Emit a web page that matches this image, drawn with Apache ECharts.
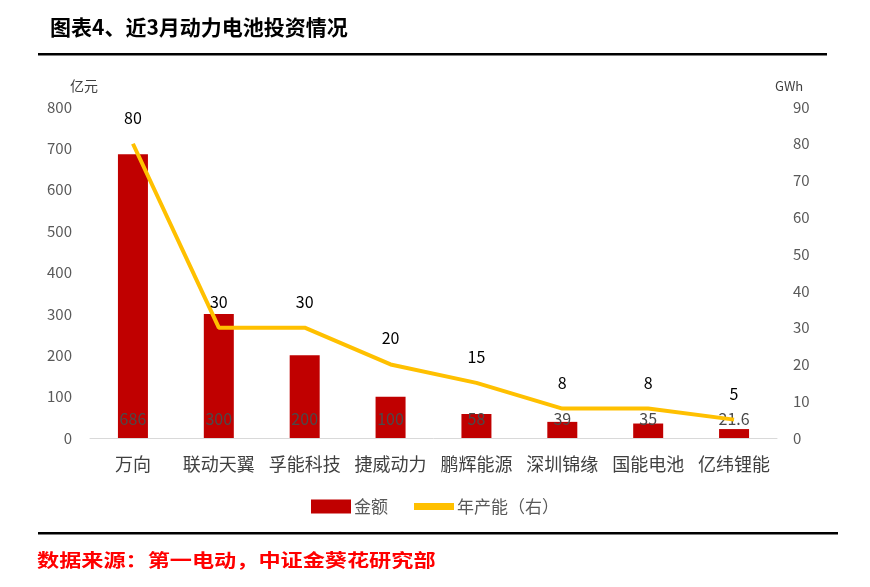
<!DOCTYPE html>
<html><head><meta charset="utf-8">
<script src="https://cdn.jsdelivr.net/npm/echarts@6/dist/echarts.min.js"></script>
<style>html,body{margin:0;padding:0;background:#fff}#c{width:870px;height:587px}</style>
</head><body><div id="c"></div>
<script>
const categories = ['万向','联动天翼','孚能科技','捷威动力','鹏辉能源','深圳锦缘','国能电池','亿纬锂能'];
const amount = [686, 300, 200, 100, 58, 39, 35, 21.6];
const capacity = [80, 30, 30, 20, 15, 8, 8, 5];
const leftTicks = {min: 0, max: 800, interval: 100};
const rightTicks = {min: 0, max: 90, interval: 10};
const FONT = '"Noto Sans CJK SC", "Noto Sans", sans-serif';

const chart = echarts.init(document.getElementById('c'));
chart.setOption({
  animation: false,
  textStyle: {fontFamily: FONT},
  grid: {left: 90, right: 93, top: 107, bottom: 149},
  legend: {
    data: [{name: '金额', icon: 'rect'}, {name: '年产能（右）', icon: 'path://M0,0 L40,0 L40,7 L0,7 Z'}],
    bottom: 67, left: 'center',
    itemWidth: 40, itemHeight: 14, itemGap: 26,
    textStyle: {fontSize: 17, color: '#595959', fontFamily: FONT, padding: [0, 0, 0, -2]}
  },
  xAxis: {
    type: 'category', data: categories,
    axisLine: {lineStyle: {color: '#d9d9d9', width: 1}},
    axisTick: {show: false},
    axisLabel: {interval: 0, fontSize: 18, color: '#404040', margin: 17, fontFamily: FONT}
  },
  yAxis: [{
    type: 'value', min: leftTicks.min, max: leftTicks.max, interval: leftTicks.interval,
    name: '亿元', nameGap: 14, nameTextStyle: {fontSize: 14, color: '#404040', align: 'right', padding: [0, -8, 0, 0]},
    splitLine: {show: false}, axisLine: {show: false}, axisTick: {show: false},
    axisLabel: {fontSize: 15, color: '#595959', margin: 18}
  }, {
    type: 'value', min: rightTicks.min, max: rightTicks.max, interval: rightTicks.interval,
    name: 'GWh', nameGap: 14, nameTextStyle: {fontSize: 13, color: '#404040', align: 'left', padding: [0, 0, 0, -2]},
    splitLine: {show: false}, axisLine: {show: false}, axisTick: {show: false},
    axisLabel: {fontSize: 15, color: '#595959', margin: 16}
  }],
  series: [{
    name: '金额', type: 'bar', data: amount, yAxisIndex: 0,
    barWidth: 30,
    itemStyle: {color: '#C00000'},
    label: {show: true, position: 'insideBottom', distance: 11, fontSize: 16, color: '#4a4a4a'}
  }, {
    name: '年产能（右）', type: 'line', data: capacity, yAxisIndex: 1,
    symbol: 'circle', symbolSize: 0.1, showSymbol: true,
    lineStyle: {color: '#FFC000', width: 4}, itemStyle: {color: '#FFC000'},
    label: {show: true, position: 'top', distance: 18, fontSize: 16, color: '#000'}
  }],
  graphic: [
    {type: 'text', left: 50, top: 17, style: {text: '图表4、近3月动力电池投资情况', font: 'bold 21px ' + FONT, fill: '#000'}},
    {type: 'rect', shape: {x: 38, y: 53, width: 789, height: 2.5}, style: {fill: '#000'}},
    {type: 'rect', shape: {x: 38, y: 532, width: 800, height: 2.5}, style: {fill: '#000'}},
    {type: 'text', x: 37, y: 551, scaleX: 1.23, style: {text: '数据来源：第一电动，中证金葵花研究部', font: 'bold 18px ' + FONT, fill: '#FF0000'}}
  ]
});
</script></body></html>
